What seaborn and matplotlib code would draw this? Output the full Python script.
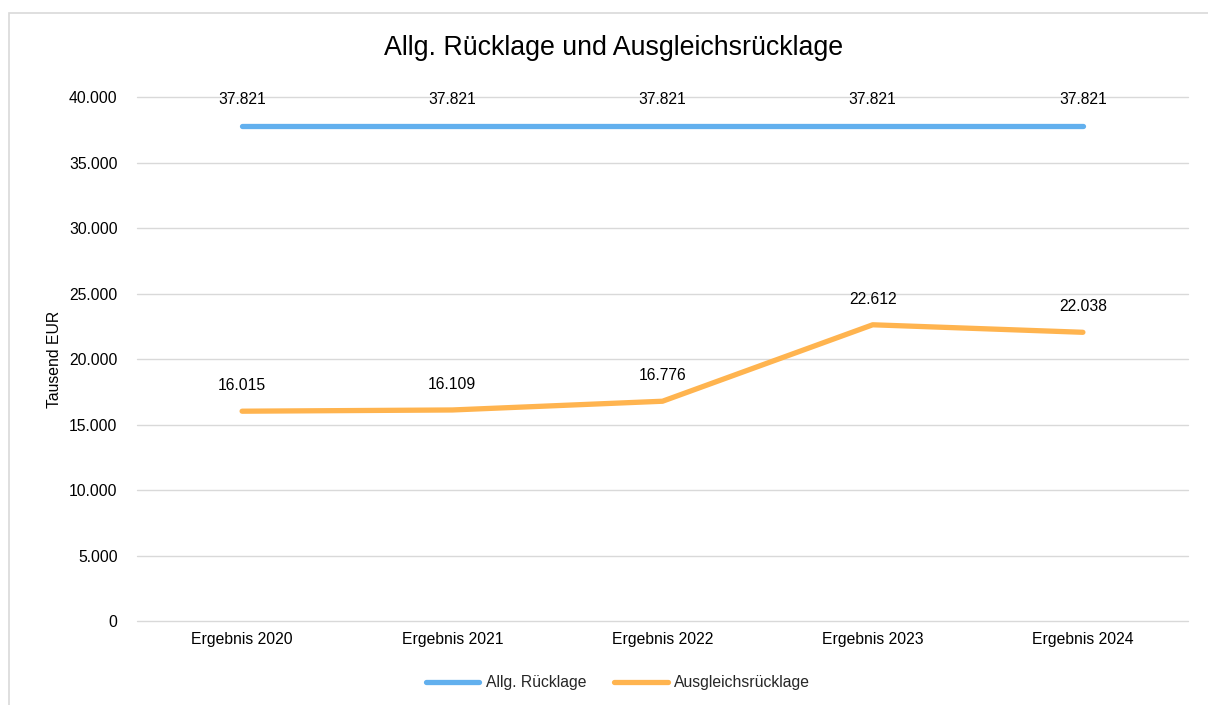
import matplotlib
matplotlib.use("Agg")
import matplotlib.pyplot as plt
import seaborn as sns
import pandas as pd
from matplotlib.patches import Rectangle

categories = ["Ergebnis 2020", "Ergebnis 2021", "Ergebnis 2022", "Ergebnis 2023", "Ergebnis 2024"]
allg_ruecklage = [37821, 37821, 37821, 37821, 37821]
ausgleichsruecklage = [16015, 16109, 16776, 22612, 22038]
series_names = ["Allg. Rücklage", "Ausgleichsrücklage"]
yticks = [0, 5000, 10000, 15000, 20000, 25000, 30000, 35000, 40000]

colors = ["#62B0EE", "#FFB44F"]
FS = 11.3

df = pd.DataFrame({
    "cat": categories * 2,
    "value": allg_ruecklage + ausgleichsruecklage,
    "series": [series_names[0]] * len(categories) + [series_names[1]] * len(categories),
})

sns.set_theme(style="white")
plt.rcParams['font.family'] = ['Liberation Sans', 'DejaVu Sans']

fig = plt.figure(figsize=(12.08, 7.05), dpi=100)
ax = fig.add_axes([137/1208, 1-621/705, (1188-137)/1208, (621-97)/705])

sns.lineplot(data=df, x="cat", y="value", hue="series", palette=colors,
             linewidth=3.8, ax=ax, sort=False, legend=True)
for line in ax.get_lines():
    line.set_solid_capstyle("round")
    line.set_solid_joinstyle("round")

def fmt(v):
    return f"{v:,.0f}".replace(",", ".")

for vals in (allg_ruecklage, ausgleichsruecklage):
    for i, v in enumerate(vals):
        ax.annotate(fmt(v), (i, v), xytext=(0, 13), textcoords="offset points",
                    ha="center", va="bottom", fontsize=FS, color="#000000")

ax.set_xlim(-0.5, len(categories) - 0.5)
ax.set_ylim(0, 40000)
ax.set_yticks(yticks)
ax.set_yticklabels([fmt(v) for v in yticks])
ax.yaxis.grid(True, color="#d9d9d9", linewidth=1)
for gl in ax.yaxis.get_gridlines():
    gl.set_clip_on(False)
ax.set_axisbelow(True)
for s in ax.spines.values():
    s.set_visible(False)
ax.tick_params(axis="both", length=0, labelsize=FS, colors="#000000")
ax.tick_params(axis="y", pad=14)
ax.tick_params(axis="x", pad=8)
ax.set_xlabel("")
ax.set_ylabel("Tausend EUR", fontsize=FS, color="#000000", labelpad=5)

handles, labels = ax.get_legend_handles_labels()
ax.legend(handles, labels, loc="center", bbox_to_anchor=(618/1208, 1-683/705),
          bbox_transform=fig.transFigure, ncol=2, frameon=False, fontsize=FS,
          handlelength=3.4, columnspacing=1.8, handletextpad=0.4)

fig.text(614/1208, 1-48/705, "Allg. Rücklage und Ausgleichsrücklage",
         ha="center", va="center", fontsize=19.3, color="#000000")

fig.patches.append(Rectangle((8.5/1208, -0.1), 1.2, 0.1 + 1 - 13/705,
                             transform=fig.transFigure, fill=False,
                             edgecolor="#d9d9d9", linewidth=1.2))

fig.savefig("out.png", dpi=100)
